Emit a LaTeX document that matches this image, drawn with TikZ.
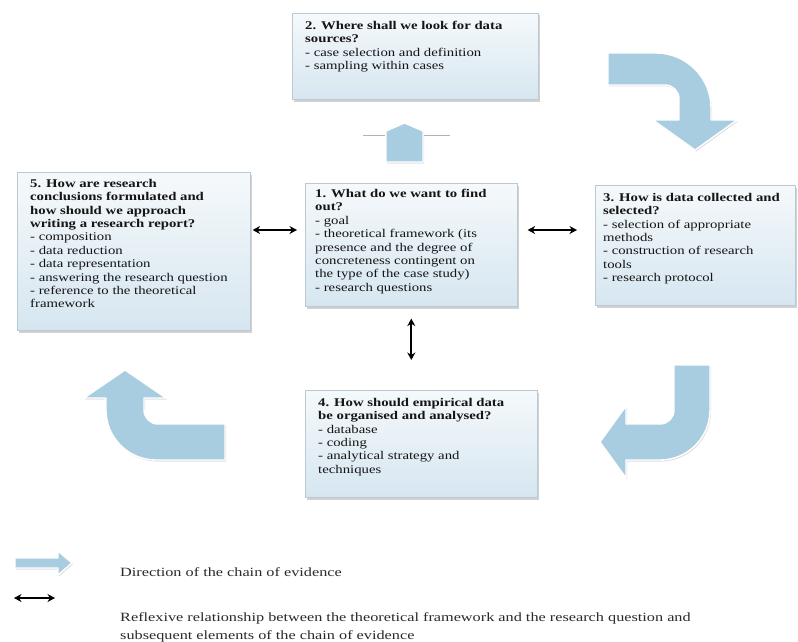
\documentclass[tikz,border=0pt]{standalone}
\usepackage{fontspec}
\setmainfont{Liberation Serif}[FakeStretch=1.29]
\newfontfamily\boxfont{Liberation Serif}[FakeStretch=1.25]
\usetikzlibrary{arrows.meta,shadows,calc}
\definecolor{arrowblue}{HTML}{A9CDE0}
\definecolor{boxtop}{HTML}{F5F9FB}
\definecolor{boxbot}{HTML}{D6E6F0}
\definecolor{boxline}{HTML}{BCC9D2}
\definecolor{txtcol}{HTML}{151515}
\definecolor{legcol}{HTML}{2A2A2A}
\begin{document}
\begin{tikzpicture}[x=1pt,y=-1pt,
  box/.style={draw=boxline, line width=0.6pt, top color=boxtop, bottom color=boxbot,
    anchor=north west, inner sep=0pt,
    drop shadow={opacity=0.4, shadow xshift=1.2pt, shadow yshift=-2.2pt, fill=black!45}},
  txt/.style={anchor=north west, inner sep=0pt, align=left, text=txtcol,
    font=\boxfont\fontsize{11.8}{13.4}\selectfont},
  legtxt/.style={anchor=base west, inner sep=0pt, text=legcol,
    font=\fontsize{12.6}{19}\selectfont},
  blockarrow/.style={fill=arrowblue, draw=white, line width=1.4pt, line join=round,
    drop shadow={opacity=0.3, shadow xshift=1pt, shadow yshift=-1.5pt, fill=black!40}},
  reflex/.style={line width=2pt, {Stealth[length=7.5pt,width=8pt]}-{Stealth[length=7.5pt,width=8pt]}},
]
\useasboundingbox[fill=white] (0,0) rectangle (798,642);

% boxes
\node[box, minimum width=246pt, minimum height=86pt]  (b2) at (292,13)  {};
\node[box, minimum width=233pt, minimum height=158pt] (b5) at (17,172)  {};
\node[box, minimum width=212pt, minimum height=123pt] (b1) at (305,183) {};
\node[box, minimum width=200pt, minimum height=120pt] (b3) at (595,185) {};
\node[box, minimum width=232pt, minimum height=107pt] (b4) at (305,390) {};

% texts
\node[txt] (t2) at (305,21) {\textbf{2. Where shall we look for data}\\\textbf{sources?}\\- case selection and definition\\- sampling within cases};
\node[txt] (t5) at (30,179) {\textbf{5. How are research}\\\textbf{conclusions formulated and}\\\textbf{how should we approach}\\\textbf{writing a research report?}\\- composition\\- data reduction\\- data representation\\- answering the research question\\- reference to the theoretical\\framework};
\node[txt] (t1) at (315,189) {\textbf{1. What do we want to find}\\\textbf{out?}\\- goal\\- theoretical framework (its\\presence and the degree of\\concreteness contingent on\\the type of the case study)\\- research questions};
\node[txt] (t3) at (603,193) {\textbf{3. How is data collected and}\\\textbf{selected?}\\- selection of appropriate\\methods\\- construction of research\\tools\\- research protocol};
\node[txt] (t4) at (318,398) {\textbf{4. How should empirical data}\\\textbf{be organised and analysed?}\\- database\\- coding\\- analytical strategy and\\techniques};

% reflexive connectors
\coordinate (hy) at (0,230);
\draw[reflex, shorten <=2pt, shorten >=8pt] (b5.east |- hy) -- (b1.west |- hy);
\draw[reflex, shorten <=10pt, shorten >=18pt] (b1.east |- hy) -- (b3.west |- hy);
\draw[reflex, shorten <=12pt, shorten >=30pt] (b1.south) -- (b1.south |- b4.north);

% block arrows (chain of evidence)
\path[blockarrow] (386,162) -- (386,131) -- (404.5,123) -- (423,131) -- (423,162) -- cycle;
\draw[black!30, line width=1pt] (363,135) -- (385,135) (424,135) -- (450,135);

\path[blockarrow] (608,53) -- (656,53) arc[start angle=-90,end angle=0,radius=55]
  -- (711,120) -- (737,120) -- (695,150) -- (653,120) -- (679,120) -- (679,99)
  arc[start angle=0,end angle=-90,radius=14] -- (608,85) -- cycle;

\path[blockarrow] (674,365) -- (710,365) -- (710,410) arc[start angle=0,end angle=90,radius=50]
  -- (626,460) -- (626,478) -- (600,442) -- (626,406) -- (626,424) -- (660,424)
  arc[start angle=90,end angle=0,radius=14] -- cycle;

\path[blockarrow] (225,424) -- (225,460) -- (156,460) arc[start angle=90,end angle=180,radius=50]
  -- (106,398) -- (84,398) -- (125,370) -- (166,398) -- (144,398) -- (144,410)
  arc[start angle=180,end angle=90,radius=14] -- cycle;

% legend
\path[blockarrow] (15,558) -- (58,558) -- (58,551) -- (72,563) -- (58,575) -- (58,568) -- (15,568) -- cycle;
\node[legtxt] (ld) at (120,576) {Direction of the chain of evidence};
\coordinate (l1) at (14,598);
\coordinate (l2) at (55,598);
\draw[reflex] (l1) -- (l2);
\node[legtxt] (lr1) at (120,621) {Reflexive relationship between the theoretical framework and the research question and};
\node[legtxt] (lr2) at (120,639) {subsequent elements of the chain of evidence};
\end{tikzpicture}
\end{document}
